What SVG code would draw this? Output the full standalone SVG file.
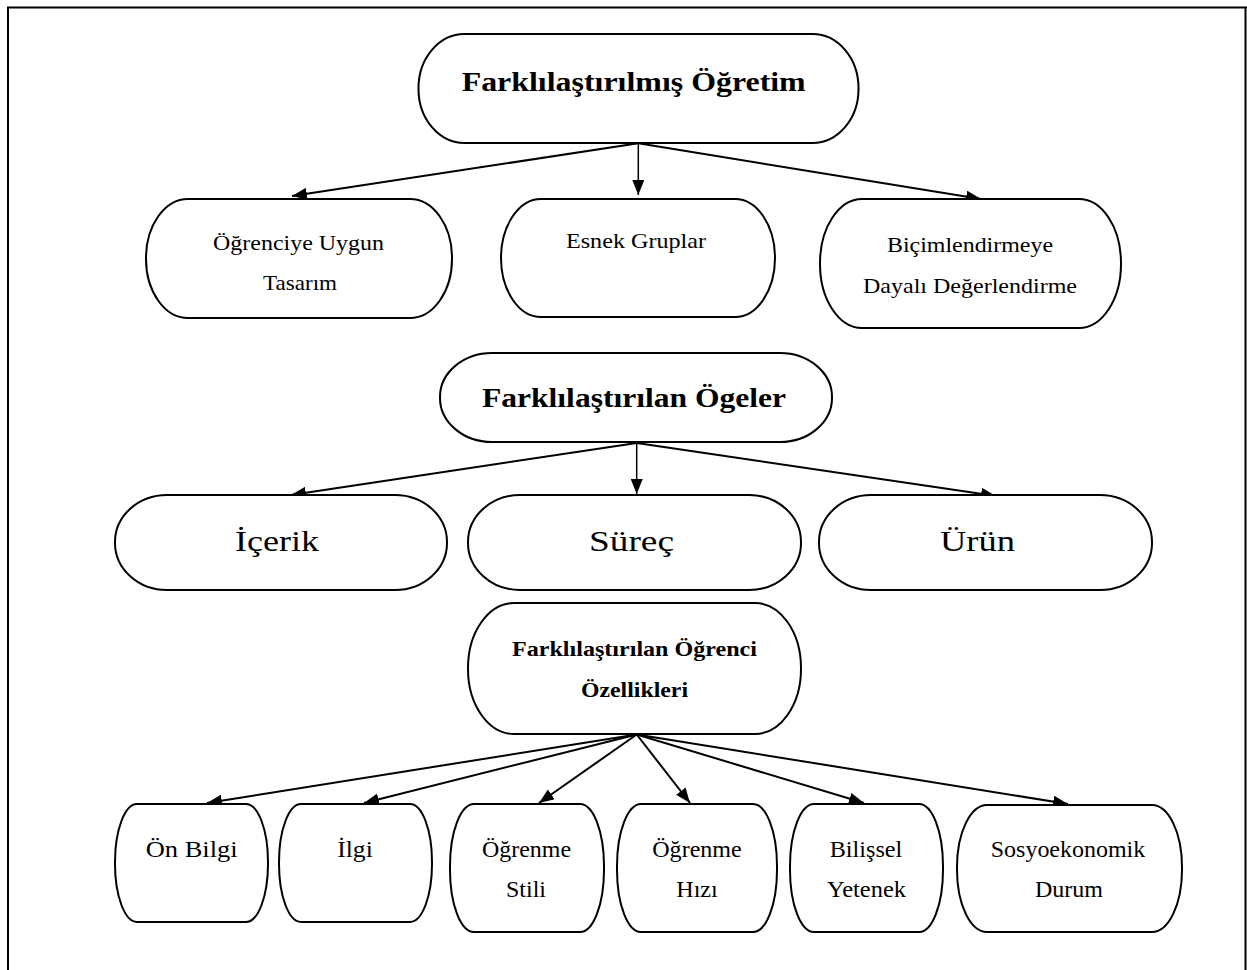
<svg xmlns="http://www.w3.org/2000/svg" width="1247" height="970" viewBox="0 0 1247 970">
<defs>
<marker id="ah" markerUnits="userSpaceOnUse" markerWidth="16" markerHeight="12" refX="15" refY="6" orient="auto">
<path d="M0,0 L15,6 L0,12 z" fill="#000"/>
</marker>
<style>
.n{fill:#fff;stroke:#000;stroke-width:2}
text{font-family:'Liberation Serif',serif;fill:#000;text-anchor:middle}
.b{font-weight:bold}
.c{fill:none;stroke:#000;stroke-width:2;marker-end:url(#ah)}
.cv{fill:none;stroke:#000;stroke-width:1.5;marker-end:url(#ah)}
.fr{fill:none;stroke:#000;stroke-width:2}
</style>
</defs>
<rect width="1247" height="970" fill="#fff"/>
<g id="frame">
<line class="fr" x1="7" y1="7.5" x2="1247" y2="7.5"/>
<line class="fr" x1="8" y1="7" x2="8" y2="970"/>
<line class="fr" x1="1245.5" y1="7" x2="1245.5" y2="970"/>
</g>
<g id="connectors">
<line class="c" x1="638.3" y1="143.3" x2="292" y2="196"/>
<line class="cv" x1="638.3" y1="143.3" x2="638.3" y2="195"/>
<line class="c" x1="638.3" y1="143.3" x2="981" y2="199"/>
<line class="c" x1="636.7" y1="443" x2="291" y2="495"/>
<line class="cv" x1="636.7" y1="443" x2="636.7" y2="494"/>
<line class="c" x1="636.7" y1="443" x2="996" y2="496"/>
<line class="c" x1="636.7" y1="734.5" x2="207" y2="803"/>
<line class="c" x1="636.7" y1="734.5" x2="364" y2="803"/>
<line class="c" x1="636.7" y1="734.5" x2="539" y2="803"/>
<line class="c" x1="636.7" y1="734.5" x2="690" y2="803"/>
<line class="c" x1="636.7" y1="734.5" x2="864" y2="803"/>
<line class="c" x1="636.7" y1="734.5" x2="1068" y2="804"/>
</g>
<g id="n-ogretim">
<rect class="n" x="418.5" y="34" width="440" height="109" rx="46" ry="54"/>
<text class="b" font-family="Liberation Serif, serif" x="633.7" y="91" font-size="28" textLength="344" lengthAdjust="spacingAndGlyphs">Farklılaştırılmış Öğretim</text>
</g>
<g id="n-tasarim">
<rect class="n" x="146" y="199" width="306" height="119" rx="42" ry="59"/>
<text font-family="Liberation Serif, serif" x="298.5" y="250" font-size="21" textLength="171" lengthAdjust="spacingAndGlyphs">Öğrenciye Uygun</text>
<text font-family="Liberation Serif, serif" x="300" y="290" font-size="21" textLength="74" lengthAdjust="spacingAndGlyphs">Tasarım</text>
</g>
<g id="n-esnek">
<rect class="n" x="501" y="199" width="274" height="118" rx="40" ry="59"/>
<text font-family="Liberation Serif, serif" x="636" y="248" font-size="21" textLength="140" lengthAdjust="spacingAndGlyphs">Esnek Gruplar</text>
</g>
<g id="n-bicim">
<rect class="n" x="820" y="199" width="301" height="129" rx="42" ry="64"/>
<text font-family="Liberation Serif, serif" x="970" y="252" font-size="21" textLength="166" lengthAdjust="spacingAndGlyphs">Biçimlendirmeye</text>
<text font-family="Liberation Serif, serif" x="970" y="293" font-size="21" textLength="214" lengthAdjust="spacingAndGlyphs">Dayalı Değerlendirme</text>
</g>
<g id="n-ogeler">
<rect class="n" x="440" y="353" width="392" height="89" rx="52" ry="44"/>
<text class="b" font-family="Liberation Serif, serif" x="634" y="407" font-size="28" textLength="304" lengthAdjust="spacingAndGlyphs">Farklılaştırılan Ögeler</text>
</g>
<g id="n-icerik">
<rect class="n" x="115" y="495" width="332" height="95" rx="52" ry="47"/>
<text font-family="Liberation Serif, serif" x="277" y="551" font-size="29" textLength="84" lengthAdjust="spacingAndGlyphs">İçerik</text>
</g>
<g id="n-surec">
<rect class="n" x="468" y="495" width="333" height="95" rx="52" ry="47"/>
<text font-family="Liberation Serif, serif" x="631.5" y="551" font-size="29" textLength="85" lengthAdjust="spacingAndGlyphs">Süreç</text>
</g>
<g id="n-urun">
<rect class="n" x="819" y="495" width="333" height="95" rx="52" ry="47"/>
<text font-family="Liberation Serif, serif" x="977.5" y="551" font-size="29" textLength="75" lengthAdjust="spacingAndGlyphs">Ürün</text>
</g>
<g id="n-ozellik">
<rect class="n" x="468" y="603" width="333" height="131" rx="46" ry="65"/>
<text class="b" font-family="Liberation Serif, serif" x="634.5" y="656" font-size="22" textLength="245" lengthAdjust="spacingAndGlyphs">Farklılaştırılan Öğrenci</text>
<text class="b" font-family="Liberation Serif, serif" x="634.5" y="697" font-size="22" textLength="107" lengthAdjust="spacingAndGlyphs">Özellikleri</text>
</g>
<g id="n-onbilgi">
<rect class="n" x="115" y="804" width="153" height="118" rx="22" ry="58"/>
<text font-family="Liberation Serif, serif" x="191.7" y="857" font-size="24" textLength="92" lengthAdjust="spacingAndGlyphs">Ön Bilgi</text>
</g>
<g id="n-ilgi">
<rect class="n" x="279" y="804" width="153" height="118" rx="22" ry="58"/>
<text font-family="Liberation Serif, serif" x="355" y="857" font-size="24" textLength="35.5" lengthAdjust="spacingAndGlyphs">İlgi</text>
</g>
<g id="n-stil">
<rect class="n" x="450" y="804" width="154" height="128" rx="24" ry="62"/>
<text font-family="Liberation Serif, serif" x="526.5" y="857" font-size="24" textLength="89" lengthAdjust="spacingAndGlyphs">Öğrenme</text>
<text font-family="Liberation Serif, serif" x="526" y="897" font-size="24" textLength="40" lengthAdjust="spacingAndGlyphs">Stili</text>
</g>
<g id="n-hiz">
<rect class="n" x="617" y="804" width="160" height="128" rx="24" ry="62"/>
<text font-family="Liberation Serif, serif" x="697" y="857" font-size="24" textLength="89.5" lengthAdjust="spacingAndGlyphs">Öğrenme</text>
<text font-family="Liberation Serif, serif" x="697" y="897" font-size="24" textLength="41.6" lengthAdjust="spacingAndGlyphs">Hızı</text>
</g>
<g id="n-bilissel">
<rect class="n" x="790" y="804" width="153" height="128" rx="24" ry="62"/>
<text font-family="Liberation Serif, serif" x="866" y="857" font-size="24" textLength="72.5" lengthAdjust="spacingAndGlyphs">Bilişsel</text>
<text font-family="Liberation Serif, serif" x="866.5" y="897" font-size="24" textLength="79" lengthAdjust="spacingAndGlyphs">Yetenek</text>
</g>
<g id="n-sosyo">
<rect class="n" x="957" y="805" width="225" height="127" rx="30" ry="62"/>
<text font-family="Liberation Serif, serif" x="1068" y="857" font-size="24" textLength="154.5" lengthAdjust="spacingAndGlyphs">Sosyoekonomik</text>
<text font-family="Liberation Serif, serif" x="1069" y="897" font-size="24" textLength="68" lengthAdjust="spacingAndGlyphs">Durum</text>
</g>
</svg>
